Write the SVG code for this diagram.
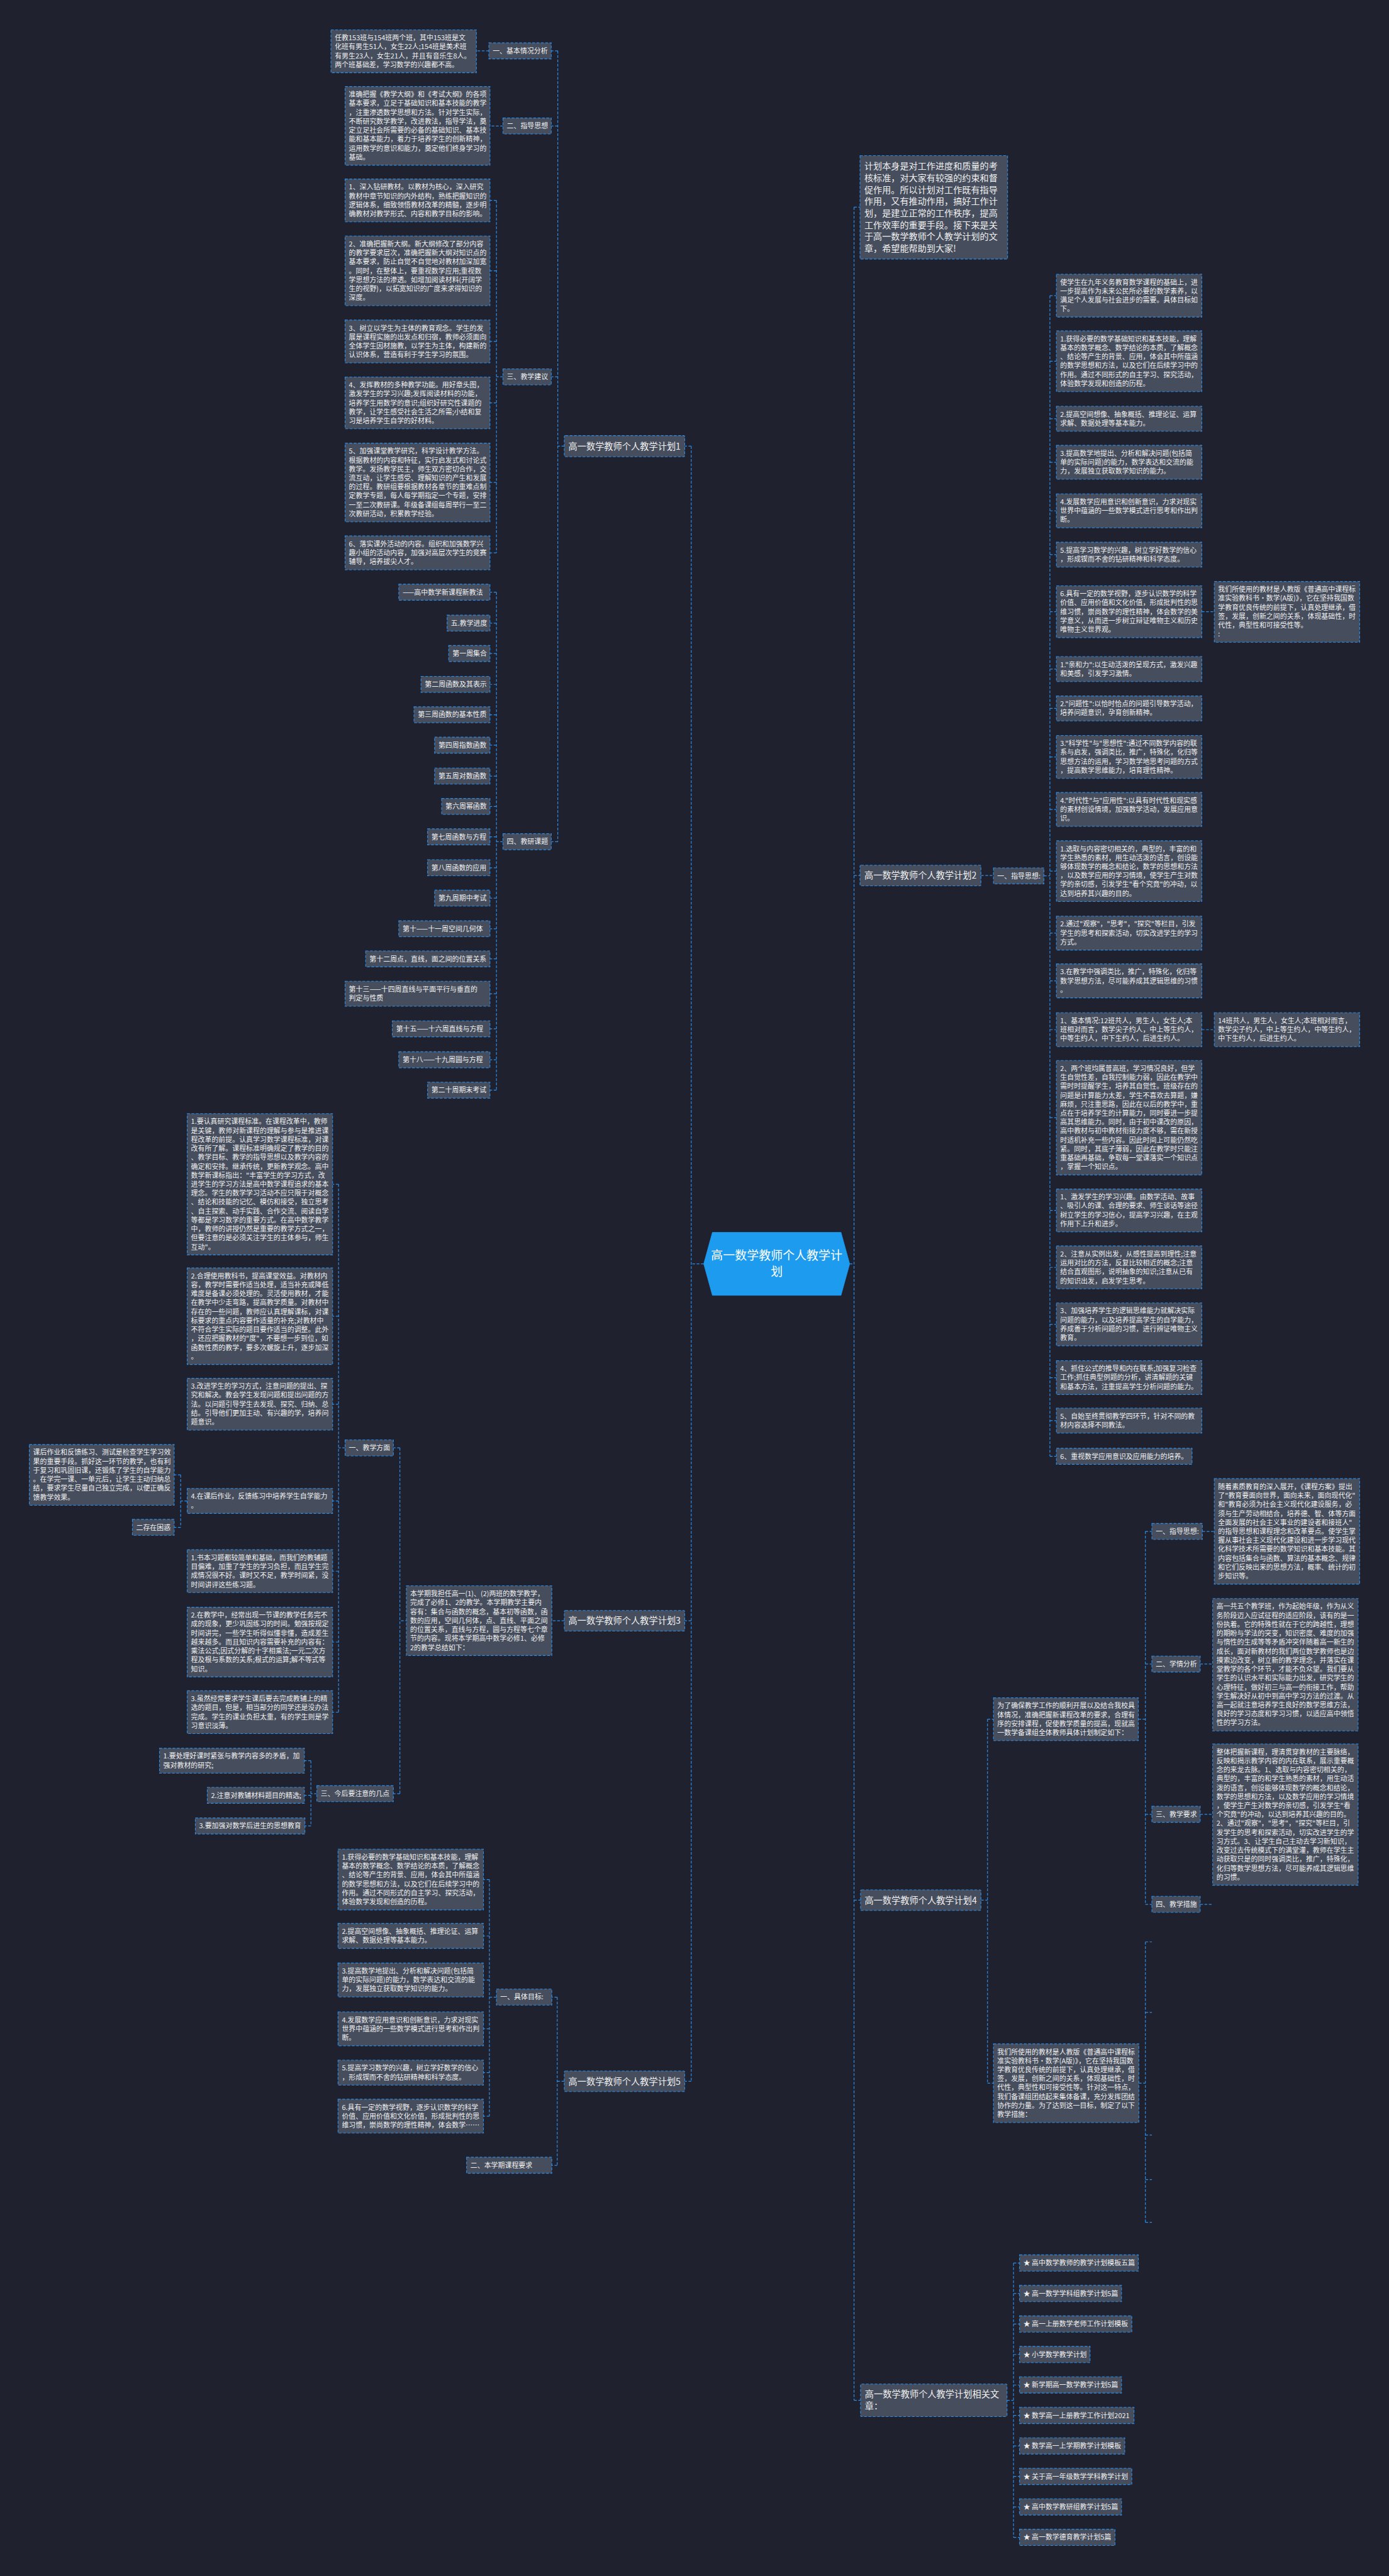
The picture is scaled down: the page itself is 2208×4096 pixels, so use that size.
<svg xmlns="http://www.w3.org/2000/svg" width="2208" height="4096" viewBox="0 0 2208 4096">
<style>
.bg{fill:#1f222e}
.n{fill:#464d5c;stroke:#2d8ce6;stroke-width:1.3;stroke-dasharray:5 3}
.c{fill:none;stroke:#2d8ce6;stroke-width:1.4;stroke-dasharray:5 3}
.t{font-family:"Noto Sans CJK SC","Noto Sans",sans-serif;font-size:12.7px;fill:#f0f0f0}
.tb{font-family:"Noto Sans CJK SC","Noto Sans",sans-serif;font-size:16.5px;fill:#f0f0f0}
.tc{font-family:"Noto Sans CJK SC","Noto Sans",sans-serif;font-size:22px;fill:#ffffff}
</style>
<rect class="bg" x="0" y="0" width="2208" height="4096"/>
<g transform="scale(0.8625)">
<g id="connectors">
<path class="c" d="M1297 2330H1274M1274 822.5V3837M1274 822.5H1262M1274 2988H1262M1274 3837H1262"/>
<path class="c" d="M1566 2330H1574M1574 382V4425M1574 382H1585M1574 1614H1585M1574 3503H1586M1574 4425H1586"/>
<path class="c" d="M1040 822.5H1028M1028 93.75V1551.75M1028 93.75H1016M1028 232.25H1016M1028 694.75H1016M1028 1551.75H1016"/>
<path class="c" d="M901 93.75H878M927 232.25H903"/>
<path class="c" d="M927 694.75H915M915 369.5V1019M915 369.5H903M915 499.25H903M915 629.5H903M915 742.75H903M915 889.5H903M915 1019.25H903"/>
<path class="c" d="M927 1551.75H915M915 1091.75V2009.75M915 1091.75H903M915 1148.75H903M915 1204.75H903M915 1261.75H903M915 1317.75H903M915 1373.75H903M915 1430.75H903M915 1486.75H903M915 1542.75H903M915 1599.75H903M915 1655.75H903M915 1712.25H903M915 1767.75H903M915 1832H903M915 1896.75H903M915 1953.75H903M915 2009.75H903"/>
<path class="c" d="M1040 2988H737M737 2669.25V3306.75M737 2669.25H725M737 3306.75H725"/>
<path class="c" d="M636 2669.25H624M624 2183.25V3156.5M624 2183.25H613M624 2426.5H613M624 2588.75H613M624 2767H613M624 2896.5H613M624 3027.25H613M624 3156.5H613"/>
<path class="c" d="M345 2767H333M333 2719V2815.75M333 2719H321M333 2815.75H321"/>
<path class="c" d="M584 3306.75H573M573 3246V3366.25M573 3246H561M573 3309.75H561M573 3366.25H561"/>
<path class="c" d="M1040 3837H1027M1027 3682V3992M1027 3682H1017M1027 3992H1017"/>
<path class="c" d="M915 3682H902M902 3465V3901.25M902 3465H891M902 3569H891M902 3650.25H891M902 3740.25H891M902 3821H891M902 3901.25H891"/>
<path class="c" d="M1808 1614H1831M1924 1614.75H1935M1935 545V2684.75M1935 545H1947M1935 666H1947M1935 772H1947M1935 852.25H1947M1935 941.75H1947M1935 1022.5H1947M1935 1127.75H1947M1935 1233.5H1947M1935 1306H1947M1935 1395.5H1947M1935 1492.25H1947M1935 1606H1947M1935 1720.25H1947M1935 1808.25H1947M1935 1898.25H1947M1935 2060.5H1947M1935 2231.5H1947M1935 2336.5H1947M1935 2441.5H1947M1935 2539.75H1947M1935 2619H1947M1935 2684.75H1947"/>
<path class="c" d="M2215 1127.75H2238M2215 1898.25H2238"/>
<path class="c" d="M1808 3503H1820M1820 3169.5V3840.5M1820 3169.5H1831M1820 3840.5H1831"/>
<path class="c" d="M2098 3169.5H2111M2111 2823.25V3510.75M2111 2823.25H2123M2111 3067.75H2123M2111 3344.75H2123M2111 3510.75H2123"/>
<path class="c" d="M2216 2823.25H2238M2212 3067.75H2235M2212 3344.75H2235M2212 3510.75H2235"/>
<path class="c" d="M2099 3840.5H2111M2111 3580V4097M2111 3580H2123M2111 3710H2123M2111 3936H2123M2111 4018H2123M2111 4097H2123"/>
<path class="c" d="M1856 4425H1868M1868 4172V4678M1868 4172H1879M1868 4228.2H1879M1868 4284.4H1879M1868 4340.6H1879M1868 4396.8H1879M1868 4453H1879M1868 4509.2H1879M1868 4565.4H1879M1868 4621.6H1879M1868 4677.8H1879"/>
</g>

<g id="center"><path d="M1297 2330L1313 2272H1550L1566 2330L1550 2388H1313Z" fill="#1c9bef" stroke="#1c9bef"/><text class="tc" x="1431.5" y="2322" text-anchor="middle">高一数学教师个人教学计</text><text class="tc" x="1431.5" y="2352" text-anchor="middle">划</text></g>

<g id="plan1"><rect class="n" x="1040" y="803" width="222" height="39" rx="2"/><text class="tb" x="1151" y="828.5" text-anchor="middle">高一数学教师个人教学计划1</text></g>
<g id="p1s1"><rect class="n" x="901" y="79" width="115" height="29.5"/><text class="t" x="908" y="98.3">一、基本情况分析</text></g>
<g id="p1s1a"><rect class="n" x="610" y="55" width="268" height="79"/><text class="t" x="617" y="74.3">任教153班与154班两个班，其中153班是文<tspan x="617" dy="16.5">化班有男生51人，女生22人;154班是美术班</tspan><tspan x="617" dy="16.5">有男生23人，女生21人，并且有音乐生8人。</tspan><tspan x="617" dy="16.5">两个班基础差，学习数学的兴趣都不高。</tspan></text></g>
<g id="p1s2"><rect class="n" x="927" y="217.5" width="89" height="29.5"/><text class="t" x="934" y="236.8">二、指导思想</text></g>
<g id="p1s2a"><rect class="n" x="636" y="159.5" width="267" height="145"/><text class="t" x="643" y="178.8">准确把握《教学大纲》和《考试大纲》的各项<tspan x="643" dy="16.5">基本要求，立足于基础知识和基本技能的教学</tspan><tspan x="643" dy="16.5">，注重渗透数学思想和方法。针对学生实际，</tspan><tspan x="643" dy="16.5">不断研究数学教学，改进教法，指导学法，奠</tspan><tspan x="643" dy="16.5">定立足社会所需要的必备的基础知识、基本技</tspan><tspan x="643" dy="16.5">能和基本能力，着力于培养学生的创新精神，</tspan><tspan x="643" dy="16.5">运用数学的意识和能力，奠定他们终身学习的</tspan><tspan x="643" dy="16.5">基础。</tspan></text></g>
<g id="p1s3"><rect class="n" x="927" y="680" width="89" height="29.5"/><text class="t" x="934" y="699.3">三、教学建议</text></g>
<g id="p1t1"><rect class="n" x="636" y="330" width="267" height="79"/><text class="t" x="643" y="349.3">1、深入钻研教材。以教材为核心，深入研究<tspan x="643" dy="16.5">教材中章节知识的内外结构，熟练把握知识的</tspan><tspan x="643" dy="16.5">逻辑体系，细致领悟教材改革的精髓，逐步明</tspan><tspan x="643" dy="16.5">确教材对教学形式、内容和教学目标的影响。</tspan></text></g>
<g id="p1t2"><rect class="n" x="636" y="435" width="267" height="128.5"/><text class="t" x="643" y="454.3">2、准确把握新大纲。新大纲修改了部分内容<tspan x="643" dy="16.5">的教学要求层次，准确把握新大纲对知识点的</tspan><tspan x="643" dy="16.5">基本要求，防止自觉不自觉地对教材加深加宽</tspan><tspan x="643" dy="16.5">。同时，在整体上，要重视数学应用;重视数</tspan><tspan x="643" dy="16.5">学思想方法的渗透。如增加阅读材料(开阔学</tspan><tspan x="643" dy="16.5">生的视野)，以拓宽知识的广度来求得知识的</tspan><tspan x="643" dy="16.5">深度。</tspan></text></g>
<g id="p1t3"><rect class="n" x="636" y="590" width="267" height="79"/><text class="t" x="643" y="609.3">3、树立以学生为主体的教育观念。学生的发<tspan x="643" dy="16.5">展是课程实施的出发点和归宿，教师必须面向</tspan><tspan x="643" dy="16.5">全体学生因材施教，以学生为主体，构建新的</tspan><tspan x="643" dy="16.5">认识体系，营造有利于学生学习的氛围。</tspan></text></g>
<g id="p1t4"><rect class="n" x="636" y="695" width="267" height="95.5"/><text class="t" x="643" y="714.3">4、发挥教材的多种教学功能。用好章头图，<tspan x="643" dy="16.5">激发学生的学习兴趣;发挥阅读材料的功能，</tspan><tspan x="643" dy="16.5">培养学生用数学的意识;组织好研究性课题的</tspan><tspan x="643" dy="16.5">教学，让学生感受社会生活之所需;小结和复</tspan><tspan x="643" dy="16.5">习是培养学生自学的好材料。</tspan></text></g>
<g id="p1t5"><rect class="n" x="636" y="817" width="267" height="145"/><text class="t" x="643" y="836.3">5、加强课堂教学研究，科学设计教学方法。<tspan x="643" dy="16.5">根据教材的内容和特征，实行启发式和讨论式</tspan><tspan x="643" dy="16.5">教学。发扬教学民主，师生双方密切合作，交</tspan><tspan x="643" dy="16.5">流互动，让学生感受、理解知识的产生和发展</tspan><tspan x="643" dy="16.5">的过程。教研组要根据教材各章节的重难点制</tspan><tspan x="643" dy="16.5">定教学专题，每人每学期指定一个专题，安排</tspan><tspan x="643" dy="16.5">一至二次教研课。年级备课组每周举行一至二</tspan><tspan x="643" dy="16.5">次教研活动，积累教学经验。</tspan></text></g>
<g id="p1t6"><rect class="n" x="636" y="988" width="267" height="62.5"/><text class="t" x="643" y="1007.3">6、落实课外活动的内容。组织和加强数学兴<tspan x="643" dy="16.5">趣小组的活动内容，加强对高层次学生的竞赛</tspan><tspan x="643" dy="16.5">辅导，培养拔尖人才。</tspan></text></g>
<g id="p1s4"><rect class="n" x="927" y="1537" width="89" height="29.5"/><text class="t" x="934" y="1556.3">四、教研课题</text></g>
<g id="p1w0"><rect class="n" x="735" y="1077" width="168" height="29.5"/><text class="t" x="742" y="1096.3">——高中数学新课程新教法</text></g>
<g id="p1w1"><rect class="n" x="824" y="1134" width="79" height="29.5"/><text class="t" x="831" y="1153.3">五.教学进度</text></g>
<g id="p1w2"><rect class="n" x="827" y="1190" width="76" height="29.5"/><text class="t" x="834" y="1209.3">第一周集合</text></g>
<g id="p1w3"><rect class="n" x="776" y="1247" width="127" height="29.5"/><text class="t" x="783" y="1266.3">第二周函数及其表示</text></g>
<g id="p1w4"><rect class="n" x="763" y="1303" width="140" height="29.5"/><text class="t" x="770" y="1322.3">第三周函数的基本性质</text></g>
<g id="p1w5"><rect class="n" x="801" y="1359" width="102" height="29.5"/><text class="t" x="808" y="1378.3">第四周指数函数</text></g>
<g id="p1w6"><rect class="n" x="801" y="1416" width="102" height="29.5"/><text class="t" x="808" y="1435.3">第五周对数函数</text></g>
<g id="p1w7"><rect class="n" x="814" y="1472" width="89" height="29.5"/><text class="t" x="821" y="1491.3">第六周幂函数</text></g>
<g id="p1w8"><rect class="n" x="788" y="1528" width="115" height="29.5"/><text class="t" x="795" y="1547.3">第七周函数与方程</text></g>
<g id="p1w9"><rect class="n" x="788" y="1585" width="115" height="29.5"/><text class="t" x="795" y="1604.3">第八周函数的应用</text></g>
<g id="p1w10"><rect class="n" x="801" y="1641" width="102" height="29.5"/><text class="t" x="808" y="1660.3">第九周期中考试</text></g>
<g id="p1w11"><rect class="n" x="735" y="1697.5" width="168" height="29.5"/><text class="t" x="742" y="1716.8">第十——十一周空间几何体</text></g>
<g id="p1w12"><rect class="n" x="674" y="1753" width="229" height="29.5"/><text class="t" x="681" y="1772.3">第十二周点，直线，面之间的位置关系</text></g>
<g id="p1w13"><rect class="n" x="636" y="1809" width="267" height="46"/><text class="t" x="643" y="1828.3">第十三——十四周直线与平面平行与垂直的<tspan x="643" dy="16.5">判定与性质</tspan></text></g>
<g id="p1w14"><rect class="n" x="723" y="1882" width="180" height="29.5"/><text class="t" x="730" y="1901.3">第十五——十六周直线与方程</text></g>
<g id="p1w15"><rect class="n" x="735" y="1939" width="168" height="29.5"/><text class="t" x="742" y="1958.3">第十八——十九周圆与方程</text></g>
<g id="p1w16"><rect class="n" x="788" y="1995" width="115" height="29.5"/><text class="t" x="795" y="2014.3">第二十周期末考试</text></g>

<g id="plan3"><rect class="n" x="1040" y="2969" width="222" height="38" rx="2"/><text class="tb" x="1151" y="2994" text-anchor="middle">高一数学教师个人教学计划3</text></g>
<g id="p3sum"><rect class="n" x="749" y="2923.5" width="268" height="128.5"/><text class="t" x="756" y="2942.8">本学期我担任高一(1)、(2)两班的数学教学，<tspan x="756" dy="16.5">完成了必修1、2的教学。本学期教学主要内</tspan><tspan x="756" dy="16.5">容有：集合与函数的概念，基本初等函数，函</tspan><tspan x="756" dy="16.5">数的应用，空间几何体，点、直线、平面之间</tspan><tspan x="756" dy="16.5">的位置关系，直线与方程，圆与方程等七个章</tspan><tspan x="756" dy="16.5">节的内容。现将本学期高中数学必修1、必修</tspan><tspan x="756" dy="16.5">2的教学总结如下：</tspan></text></g>
<g id="p3s1"><rect class="n" x="636" y="2654.5" width="89" height="29.5"/><text class="t" x="643" y="2673.8">一、教学方面</text></g>
<g id="p3c1"><rect class="n" x="345" y="2053" width="268" height="260.5"/><text class="t" x="352" y="2072.3">1.要认真研究课程标准。在课程改革中，教师<tspan x="352" dy="16.5">是关键，教师对新课程的理解与参与是推进课</tspan><tspan x="352" dy="16.5">程改革的前提。认真学习数学课程标准，对课</tspan><tspan x="352" dy="16.5">改有所了解。课程标准明确规定了教学的目的</tspan><tspan x="352" dy="16.5">、教学目标、教学的指导思想以及教学内容的</tspan><tspan x="352" dy="16.5">确定和安排。继承传统，更新教学观念。高中</tspan><tspan x="352" dy="16.5">数学新课标指出："丰富学生的学习方式，改</tspan><tspan x="352" dy="16.5">进学生的学习方法是高中数学课程追求的基本</tspan><tspan x="352" dy="16.5">理念。学生的数学学习活动不应只限于对概念</tspan><tspan x="352" dy="16.5">、结论和技能的记忆、模仿和接受，独立思考</tspan><tspan x="352" dy="16.5">、自主探索、动手实践、合作交流、阅读自学</tspan><tspan x="352" dy="16.5">等都是学习数学的重要方式。在高中数学教学</tspan><tspan x="352" dy="16.5">中，教师的讲授仍然是重要的教学方式之一，</tspan><tspan x="352" dy="16.5">但要注意的是必须关注学生的主体参与，师生</tspan><tspan x="352" dy="16.5">互动"。</tspan></text></g>
<g id="p3c2"><rect class="n" x="345" y="2337.5" width="268" height="178"/><text class="t" x="352" y="2356.8">2.合理使用教科书，提高课堂效益。对教材内<tspan x="352" dy="16.5">容，教学时需要作适当处理，适当补充或降低</tspan><tspan x="352" dy="16.5">难度是备课必须处理的。灵活使用教材，才能</tspan><tspan x="352" dy="16.5">在教学中少走弯路，提高教学质量。对教材中</tspan><tspan x="352" dy="16.5">存在的一些问题，教师应认真理解课标，对课</tspan><tspan x="352" dy="16.5">标要求的重点内容要作适量的补充;对教材中</tspan><tspan x="352" dy="16.5">不符合学生实际的题目要作适当的调整。此外</tspan><tspan x="352" dy="16.5">，还应把握教材的"度"，不要想一步到位，如</tspan><tspan x="352" dy="16.5">函数性质的教学，要多次螺旋上升，逐步加深</tspan><tspan x="352" dy="16.5">。</tspan></text></g>
<g id="p3c3"><rect class="n" x="345" y="2541" width="268" height="95.5"/><text class="t" x="352" y="2560.3">3.改进学生的学习方式，注意问题的提出、探<tspan x="352" dy="16.5">究和解决。教会学生发现问题和提出问题的方</tspan><tspan x="352" dy="16.5">法。以问题引导学生去发现、探究、归纳、总</tspan><tspan x="352" dy="16.5">结。引导他们更加主动、有兴趣的学，培养问</tspan><tspan x="352" dy="16.5">题意识。</tspan></text></g>
<g id="p3c4"><rect class="n" x="345" y="2744" width="268" height="46"/><text class="t" x="352" y="2763.3">4.在课后作业，反馈练习中培养学生自学能力<tspan x="352" dy="16.5">。</tspan></text></g>
<g id="p3c4a"><rect class="n" x="54" y="2663" width="267" height="112"/><text class="t" x="61" y="2682.3">课后作业和反馈练习、测试是检查学生学习效<tspan x="61" dy="16.5">果的重要手段。抓好这一环节的教学，也有利</tspan><tspan x="61" dy="16.5">于复习和巩固旧课，还锻炼了学生的自学能力</tspan><tspan x="61" dy="16.5">。在学完一课、一单元后，让学生主动归纳总</tspan><tspan x="61" dy="16.5">结，要求学生尽量自己独立完成，以便正确反</tspan><tspan x="61" dy="16.5">馈教学效果。</tspan></text></g>
<g id="p3c4b"><rect class="n" x="244" y="2801" width="77" height="29.5"/><text class="t" x="251" y="2820.3">二存在困惑</text></g>
<g id="p3c5"><rect class="n" x="345" y="2857" width="268" height="79"/><text class="t" x="352" y="2876.3">1.书本习题都较简单和基础，而我们的教辅题<tspan x="352" dy="16.5">目偏难，加重了学生的学习负担，而且学生完</tspan><tspan x="352" dy="16.5">成情况很不好。课时又不足，教学时间紧，没</tspan><tspan x="352" dy="16.5">时间讲评这些练习题。</tspan></text></g>
<g id="p3c6"><rect class="n" x="345" y="2963" width="268" height="128.5"/><text class="t" x="352" y="2982.3">2.在教学中，经常出现一节课的教学任务完不<tspan x="352" dy="16.5">成的现象，更少巩固练习的时间。勉强按规定</tspan><tspan x="352" dy="16.5">时间讲完，一些学生听得似懂非懂，造成差生</tspan><tspan x="352" dy="16.5">越来越多。而且知识内容需要补充的内容有：</tspan><tspan x="352" dy="16.5">乘法公式;因式分解的十字相乘法;一元二次方</tspan><tspan x="352" dy="16.5">程及根与系数的关系;根式的运算;解不等式等</tspan><tspan x="352" dy="16.5">知识。</tspan></text></g>
<g id="p3c7"><rect class="n" x="345" y="3117" width="268" height="79"/><text class="t" x="352" y="3136.3">3.虽然经常要求学生课后要去完成教辅上的精<tspan x="352" dy="16.5">选的题目，但是，相当部分的同学还是没办法</tspan><tspan x="352" dy="16.5">完成。学生的课业负担太重，有的学生则是学</tspan><tspan x="352" dy="16.5">习意识淡薄。</tspan></text></g>
<g id="p3s3"><rect class="n" x="584" y="3292" width="141" height="29.5"/><text class="t" x="591" y="3311.3">三、今后要注意的几点</text></g>
<g id="p3d1"><rect class="n" x="294" y="3223" width="267" height="46"/><text class="t" x="301" y="3242.3">1.要处理好课时紧张与教学内容多的矛盾，加<tspan x="301" dy="16.5">强对教材的研究;</tspan></text></g>
<g id="p3d2"><rect class="n" x="382" y="3295" width="179" height="29.5"/><text class="t" x="389" y="3314.3">2.注意对教辅材料题目的精选;</text></g>
<g id="p3d3"><rect class="n" x="360" y="3351.5" width="202" height="29.5"/><text class="t" x="367" y="3370.8">3.要加强对数学后进生的思想教育</text></g>

<g id="plan5"><rect class="n" x="1040" y="3818" width="222" height="38" rx="2"/><text class="tb" x="1151" y="3843" text-anchor="middle">高一数学教师个人教学计划5</text></g>
<g id="p5s1"><rect class="n" x="915" y="3667" width="102" height="29.5"/><text class="t" x="922" y="3686.3">一、具体目标:</text></g>
<g id="p5e1"><rect class="n" x="623" y="3409" width="268" height="112"/><text class="t" x="630" y="3428.3">1.获得必要的数学基础知识和基本技能，理解<tspan x="630" dy="16.5">基本的数学概念、数学结论的本质，了解概念</tspan><tspan x="630" dy="16.5">、结论等产生的背景、应用，体会其中所蕴涵</tspan><tspan x="630" dy="16.5">的数学思想和方法，以及它们在后续学习中的</tspan><tspan x="630" dy="16.5">作用。通过不同形式的自主学习、探究活动，</tspan><tspan x="630" dy="16.5">体验数学发现和创造的历程。</tspan></text></g>
<g id="p5e2"><rect class="n" x="623" y="3546" width="268" height="46"/><text class="t" x="630" y="3565.3">2.提高空间想像、抽象概括、推理论证、运算<tspan x="630" dy="16.5">求解、数据处理等基本能力。</tspan></text></g>
<g id="p5e3"><rect class="n" x="623" y="3619" width="268" height="62.5"/><text class="t" x="630" y="3638.3">3.提高数学地提出、分析和解决问题(包括简<tspan x="630" dy="16.5">单的实际问题)的能力，数学表达和交流的能</tspan><tspan x="630" dy="16.5">力，发展独立获取数学知识的能力。</tspan></text></g>
<g id="p5e4"><rect class="n" x="623" y="3709" width="268" height="62.5"/><text class="t" x="630" y="3728.3">4.发展数学应用意识和创新意识，力求对现实<tspan x="630" dy="16.5">世界中蕴涵的一些数学模式进行思考和作出判</tspan><tspan x="630" dy="16.5">断。</tspan></text></g>
<g id="p5e5"><rect class="n" x="623" y="3798" width="268" height="46"/><text class="t" x="630" y="3817.3">5.提高学习数学的兴趣，树立学好数学的信心<tspan x="630" dy="16.5">，形成锲而不舍的钻研精神和科学态度。</tspan></text></g>
<g id="p5e6"><rect class="n" x="623" y="3870" width="268" height="62.5"/><text class="t" x="630" y="3889.3">6.具有一定的数学视野，逐步认识数学的科学<tspan x="630" dy="16.5">价值、应用价值和文化价值，形成批判性的思</tspan><tspan x="630" dy="16.5">维习惯，崇尚数学的理性精神，体会数学……</tspan></text></g>
<g id="p5s2"><rect class="n" x="860" y="3977" width="157" height="29.5"/><text class="t" x="867" y="3996.3">二、本学期课程要求</text></g>

<g id="intro"><rect class="n" x="1585" y="287" width="272" height="190.5"/><text class="tb" style="font-size:16.4px" x="1593" y="312">计划本身是对工作进度和质量的考<tspan x="1593" dy="21.7">核标准，对大家有较强的约束和督</tspan><tspan x="1593" dy="21.7">促作用。所以计划对工作既有指导</tspan><tspan x="1593" dy="21.7">作用，又有推动作用，搞好工作计</tspan><tspan x="1593" dy="21.7">划，是建立正常的工作秩序，提高</tspan><tspan x="1593" dy="21.7">工作效率的重要手段。接下来是关</tspan><tspan x="1593" dy="21.7">于高一数学教师个人教学计划的文</tspan><tspan x="1593" dy="21.7">章，希望能帮助到大家!</tspan></text></g>
<g id="plan2"><rect class="n" x="1585" y="1595" width="223" height="38" rx="2"/><text class="tb" x="1696.5" y="1620" text-anchor="middle">高一数学教师个人教学计划2</text></g>
<g id="p2s1"><rect class="n" x="1831" y="1600" width="93" height="29.5"/><text class="t" x="1838" y="1619.3">一、指导思想:</text></g>
<g id="p2l1"><rect class="n" x="1947" y="505.5" width="268" height="79"/><text class="t" x="1954" y="524.8">使学生在九年义务教育数学课程的基础上，进<tspan x="1954" dy="16.5">一步提高作为未来公民所必要的数学素养，以</tspan><tspan x="1954" dy="16.5">满足个人发展与社会进步的需要。具体目标如</tspan><tspan x="1954" dy="16.5">下。</tspan></text></g>
<g id="p2l2"><rect class="n" x="1947" y="610" width="268" height="112"/><text class="t" x="1954" y="629.3">1.获得必要的数学基础知识和基本技能，理解<tspan x="1954" dy="16.5">基本的数学概念、数学结论的本质，了解概念</tspan><tspan x="1954" dy="16.5">、结论等产生的背景、应用，体会其中所蕴涵</tspan><tspan x="1954" dy="16.5">的数学思想和方法，以及它们在后续学习中的</tspan><tspan x="1954" dy="16.5">作用。通过不同形式的自主学习、探究活动，</tspan><tspan x="1954" dy="16.5">体验数学发现和创造的历程。</tspan></text></g>
<g id="p2l3"><rect class="n" x="1947" y="749" width="268" height="46"/><text class="t" x="1954" y="768.3">2.提高空间想像、抽象概括、推理论证、运算<tspan x="1954" dy="16.5">求解、数据处理等基本能力。</tspan></text></g>
<g id="p2l4"><rect class="n" x="1947" y="821" width="268" height="62.5"/><text class="t" x="1954" y="840.3">3.提高数学地提出、分析和解决问题(包括简<tspan x="1954" dy="16.5">单的实际问题)的能力，数学表达和交流的能</tspan><tspan x="1954" dy="16.5">力，发展独立获取数学知识的能力。</tspan></text></g>
<g id="p2l5"><rect class="n" x="1947" y="910.5" width="268" height="62.5"/><text class="t" x="1954" y="929.8">4.发展数学应用意识和创新意识，力求对现实<tspan x="1954" dy="16.5">世界中蕴涵的一些数学模式进行思考和作出判</tspan><tspan x="1954" dy="16.5">断。</tspan></text></g>
<g id="p2l6"><rect class="n" x="1947" y="999.5" width="268" height="46"/><text class="t" x="1954" y="1018.8">5.提高学习数学的兴趣，树立学好数学的信心<tspan x="1954" dy="16.5">，形成锲而不舍的钻研精神和科学态度。</tspan></text></g>
<g id="p2l7"><rect class="n" x="1947" y="1080" width="268" height="95.5"/><text class="t" x="1954" y="1099.3">6.具有一定的数学视野，逐步认识数学的科学<tspan x="1954" dy="16.5">价值、应用价值和文化价值，形成批判性的思</tspan><tspan x="1954" dy="16.5">维习惯，崇尚数学的理性精神，体会数学的美</tspan><tspan x="1954" dy="16.5">学意义，从而进一步树立辩证唯物主义和历史</tspan><tspan x="1954" dy="16.5">唯物主义世界观。</tspan></text></g>
<g id="p2l7a"><rect class="n" x="2238" y="1072" width="268" height="112"/><text class="t" x="2245" y="1091.3">我们所使用的教材是人教版《普通高中课程标<tspan x="2245" dy="16.5">准实验教科书•数学(A版)》，它在坚持我国数</tspan><tspan x="2245" dy="16.5">学教育优良传统的前提下，认真处理继承，借</tspan><tspan x="2245" dy="16.5">签，发展，创新之间的关系，体现基础性，时</tspan><tspan x="2245" dy="16.5">代性，典型性和可接受性等。</tspan><tspan x="2245" dy="16.5">:</tspan></text></g>
<g id="p2l8"><rect class="n" x="1947" y="1210.5" width="268" height="46"/><text class="t" x="1954" y="1229.8">1."亲和力":以生动活泼的呈现方式，激发兴趣<tspan x="1954" dy="16.5">和美感，引发学习激情。</tspan></text></g>
<g id="p2l9"><rect class="n" x="1947" y="1283" width="268" height="46"/><text class="t" x="1954" y="1302.3">2."问题性":以恰时恰点的问题引导数学活动，<tspan x="1954" dy="16.5">培养问题意识，孕育创新精神。</tspan></text></g>
<g id="p2l10"><rect class="n" x="1947" y="1356" width="268" height="79"/><text class="t" x="1954" y="1375.3">3."科学性"与"思想性":通过不同数学内容的联<tspan x="1954" dy="16.5">系与启发，强调类比，推广，特殊化，化归等</tspan><tspan x="1954" dy="16.5">思想方法的运用，学习数学地思考问题的方式</tspan><tspan x="1954" dy="16.5">，提高数学思维能力，培育理性精神。</tspan></text></g>
<g id="p2l11"><rect class="n" x="1947" y="1461" width="268" height="62.5"/><text class="t" x="1954" y="1480.3">4."时代性"与"应用性":以具有时代性和现实感<tspan x="1954" dy="16.5">的素材创设情境，加强数学活动，发展应用意</tspan><tspan x="1954" dy="16.5">识。</tspan></text></g>
<g id="p2l12"><rect class="n" x="1947" y="1550" width="268" height="112"/><text class="t" x="1954" y="1569.3">1.选取与内容密切相关的，典型的，丰富的和<tspan x="1954" dy="16.5">学生熟悉的素材，用生动活泼的语言，创设能</tspan><tspan x="1954" dy="16.5">够体现数学的概念和结论，数学的思想和方法</tspan><tspan x="1954" dy="16.5">，以及数学应用的学习情境，使学生产生对数</tspan><tspan x="1954" dy="16.5">学的亲切感，引发学生"看个究竟"的冲动，以</tspan><tspan x="1954" dy="16.5">达到培养其兴趣的目的。</tspan></text></g>
<g id="p2l13"><rect class="n" x="1947" y="1689" width="268" height="62.5"/><text class="t" x="1954" y="1708.3">2.通过"观察"，"思考"，"探究"等栏目，引发<tspan x="1954" dy="16.5">学生的思考和探索活动，切实改进学生的学习</tspan><tspan x="1954" dy="16.5">方式。</tspan></text></g>
<g id="p2l14"><rect class="n" x="1947" y="1777" width="268" height="62.5"/><text class="t" x="1954" y="1796.3">3.在教学中强调类比，推广，特殊化，化归等<tspan x="1954" dy="16.5">数学思想方法，尽可能养成其逻辑思维的习惯</tspan><tspan x="1954" dy="16.5">。</tspan></text></g>
<g id="p2l15"><rect class="n" x="1947" y="1867" width="268" height="62.5"/><text class="t" x="1954" y="1886.3">1、基本情况:12班共人，男生人，女生人;本<tspan x="1954" dy="16.5">班相对而言，数学尖子约人，中上等生约人，</tspan><tspan x="1954" dy="16.5">中等生约人，中下生约人，后进生约人。</tspan></text></g>
<g id="p2l15a"><rect class="n" x="2238" y="1867" width="268" height="62.5"/><text class="t" x="2245" y="1886.3">14班共人，男生人，女生人;本班相对而言，<tspan x="2245" dy="16.5">数学尖子约人，中上等生约人，中等生约人，</tspan><tspan x="2245" dy="16.5">中下生约人，后进生约人。</tspan></text></g>
<g id="p2l16"><rect class="n" x="1947" y="1955" width="268" height="211"/><text class="t" x="1954" y="1974.3">2、两个班均属普高班，学习情况良好，但学<tspan x="1954" dy="16.5">生自觉性差，自我控制能力弱，因此在教学中</tspan><tspan x="1954" dy="16.5">需时时提醒学生，培养其自觉性。班级存在的</tspan><tspan x="1954" dy="16.5">问题是计算能力太差，学生不喜欢去算题，嫌</tspan><tspan x="1954" dy="16.5">麻烦，只注重思路，因此在以后的教学中，重</tspan><tspan x="1954" dy="16.5">点在于培养学生的计算能力，同时要进一步提</tspan><tspan x="1954" dy="16.5">高其思维能力。同时，由于初中课改的原因，</tspan><tspan x="1954" dy="16.5">高中教材与初中教材衔接力度不够，需在新授</tspan><tspan x="1954" dy="16.5">时适机补充一些内容。因此时间上可能仍然吃</tspan><tspan x="1954" dy="16.5">紧。同时，其底子薄弱，因此在教学时只能注</tspan><tspan x="1954" dy="16.5">重基础再基础，争取每一堂课落实一个知识点</tspan><tspan x="1954" dy="16.5">，掌握一个知识点。</tspan></text></g>
<g id="p2l17"><rect class="n" x="1947" y="2192" width="268" height="79"/><text class="t" x="1954" y="2211.3">1、激发学生的学习兴趣。由数学活动、故事<tspan x="1954" dy="16.5">、吸引人的课、合理的要求、师生谈话等途径</tspan><tspan x="1954" dy="16.5">树立学生的学习信心，提高学习兴趣，在主观</tspan><tspan x="1954" dy="16.5">作用下上升和进步。</tspan></text></g>
<g id="p2l18"><rect class="n" x="1947" y="2297" width="268" height="79"/><text class="t" x="1954" y="2316.3">2、注意从实例出发，从感性提高到理性;注意<tspan x="1954" dy="16.5">运用对比的方法，反复比较相近的概念;注意</tspan><tspan x="1954" dy="16.5">结合直观图形，说明抽象的知识;注意从已有</tspan><tspan x="1954" dy="16.5">的知识出发，启发学生思考。</tspan></text></g>
<g id="p2l19"><rect class="n" x="1947" y="2402" width="268" height="79"/><text class="t" x="1954" y="2421.3">3、加强培养学生的逻辑思维能力就解决实际<tspan x="1954" dy="16.5">问题的能力，以及培养提高学生的自学能力，</tspan><tspan x="1954" dy="16.5">养成善于分析问题的习惯，进行辨证唯物主义</tspan><tspan x="1954" dy="16.5">教育。</tspan></text></g>
<g id="p2l20"><rect class="n" x="1947" y="2508.5" width="268" height="62.5"/><text class="t" x="1954" y="2527.8">4、抓住公式的推导和内在联系;加强复习检查<tspan x="1954" dy="16.5">工作;抓住典型例题的分析，讲清解题的关键</tspan><tspan x="1954" dy="16.5">和基本方法，注重提高学生分析问题的能力。</tspan></text></g>
<g id="p2l21"><rect class="n" x="1947" y="2596" width="268" height="46"/><text class="t" x="1954" y="2615.3">5、自始至终贯彻教学四环节，针对不同的教<tspan x="1954" dy="16.5">材内容选择不同教法。</tspan></text></g>
<g id="p2l22"><rect class="n" x="1947" y="2670" width="250" height="29.5"/><text class="t" x="1954" y="2689.3">6、重视数学应用意识及应用能力的培养。</text></g>

<g id="plan4"><rect class="n" x="1586" y="3484" width="222" height="38" rx="2"/><text class="tb" x="1697" y="3509" text-anchor="middle">高一数学教师个人教学计划4</text></g>
<g id="p4g"><rect class="n" x="1831" y="3130" width="267" height="79"/><text class="t" x="1838" y="3149.3">为了确保教学工作的顺利开展以及结合我校具<tspan x="1838" dy="16.5">体情况，准确把握新课程改革的要求，合理有</tspan><tspan x="1838" dy="16.5">序的安排课程，促使教学质量的提高，现就高</tspan><tspan x="1838" dy="16.5">一数学备课组全体教师具体计划制定如下：</tspan></text></g>
<g id="p4h1"><rect class="n" x="2123" y="2808.5" width="93" height="29.5"/><text class="t" x="2130" y="2827.8">一、指导思想:</text></g>
<g id="p4i1"><rect class="n" x="2238" y="2726" width="268" height="194.5"/><text class="t" x="2245" y="2745.3">随着素质教育的深入展开，《课程方案》提出<tspan x="2245" dy="16.5">了"教育要面向世界，面向未来，面向现代化"</tspan><tspan x="2245" dy="16.5">和"教育必须为社会主义现代化建设服务，必</tspan><tspan x="2245" dy="16.5">须与生产劳动相结合，培养德、智、体等方面</tspan><tspan x="2245" dy="16.5">全面发展的社会主义事业的建设者和接班人"</tspan><tspan x="2245" dy="16.5">的指导思想和课程理念和改革要点。使学生掌</tspan><tspan x="2245" dy="16.5">握从事社会主义现代化建设和进一步学习现代</tspan><tspan x="2245" dy="16.5">化科学技术所需要的数学知识和基本技能。其</tspan><tspan x="2245" dy="16.5">内容包括集合与函数、算法的基本概念、规律</tspan><tspan x="2245" dy="16.5">和它们反映出来的思想方法，概率、统计的初</tspan><tspan x="2245" dy="16.5">步知识等。</tspan></text></g>
<g id="p4h2"><rect class="n" x="2123" y="3053" width="89" height="29.5"/><text class="t" x="2130" y="3072.3">二、学情分析</text></g>
<g id="p4i2"><rect class="n" x="2235" y="2947" width="268" height="244"/><text class="t" x="2242" y="2966.3">高一共五个教学班，作为起始年级，作为从义<tspan x="2242" dy="16.5">务阶段迈入应试征程的适应阶段，该有的是一</tspan><tspan x="2242" dy="16.5">份执着。它的特殊性就在于它的跨越性，理想</tspan><tspan x="2242" dy="16.5">的期盼与学法的突变，知识密度、难度的加强</tspan><tspan x="2242" dy="16.5">与惰性的生成等等矛盾冲突伴随着高一新生的</tspan><tspan x="2242" dy="16.5">成长，面对新教材的我们两位数学教师也是边</tspan><tspan x="2242" dy="16.5">摸索边改变，树立新的教学理念，并落实在课</tspan><tspan x="2242" dy="16.5">堂教学的各个环节，才能不负众望。我们要从</tspan><tspan x="2242" dy="16.5">学生的认识水平和实际能力出发，研究学生的</tspan><tspan x="2242" dy="16.5">心理特征，做好初三与高一的衔接工作，帮助</tspan><tspan x="2242" dy="16.5">学生解决好从初中到高中学习方法的过渡。从</tspan><tspan x="2242" dy="16.5">高一起就注意培养学生良好的数学思维方法，</tspan><tspan x="2242" dy="16.5">良好的学习态度和学习习惯，以适应高中领悟</tspan><tspan x="2242" dy="16.5">性的学习方法。</tspan></text></g>
<g id="p4h3"><rect class="n" x="2123" y="3330" width="89" height="29.5"/><text class="t" x="2130" y="3349.3">三、教学要求</text></g>
<g id="p4i3"><rect class="n" x="2235" y="3215" width="268" height="260.5"/><text class="t" x="2242" y="3234.3">整体把握新课程，理清贯穿教材的主要脉络，<tspan x="2242" dy="16.5">反映和揭示教学内容的内在联系，展示重要概</tspan><tspan x="2242" dy="16.5">念的来龙去脉。1、选取与内容密切相关的，</tspan><tspan x="2242" dy="16.5">典型的，丰富的和学生熟悉的素材，用生动活</tspan><tspan x="2242" dy="16.5">泼的语言，创设能够体现数学的概念和结论，</tspan><tspan x="2242" dy="16.5">数学的思想和方法，以及数学应用的学习情境</tspan><tspan x="2242" dy="16.5">，使学生产生对数学的亲切感，引发学生"看</tspan><tspan x="2242" dy="16.5">个究竟"的冲动，以达到培养其兴趣的目的。</tspan><tspan x="2242" dy="16.5">2、通过"观察"，"思考"，"探究"等栏目，引</tspan><tspan x="2242" dy="16.5">发学生的思考和探索活动，切实改进学生的学</tspan><tspan x="2242" dy="16.5">习方式。3、让学生自己主动去学习新知识，</tspan><tspan x="2242" dy="16.5">改变过去传统模式下的满堂灌，教师在学生主</tspan><tspan x="2242" dy="16.5">动获取只是的同时强调类比，推广，特殊化，</tspan><tspan x="2242" dy="16.5">化归等数学思想方法，尽可能养成其逻辑思维</tspan><tspan x="2242" dy="16.5">的习惯。</tspan></text></g>
<g id="p4h4"><rect class="n" x="2123" y="3496" width="89" height="29.5"/><text class="t" x="2130" y="3515.3">四、教学措施</text></g>
<g id="p4j"><rect class="n" x="1831" y="3768" width="268" height="145"/><text class="t" x="1838" y="3787.3">我们所使用的教材是人教版《普通高中课程标<tspan x="1838" dy="16.5">准实验教科书•数学(A版)》，它在坚持我国数</tspan><tspan x="1838" dy="16.5">学教育优良传统的前提下，认真处理继承，借</tspan><tspan x="1838" dy="16.5">签，发展，创新之间的关系，体现基础性，时</tspan><tspan x="1838" dy="16.5">代性，典型性和可接受性等。针对这一特点，</tspan><tspan x="1838" dy="16.5">我们备课组团结起来集体备课，充分发挥团结</tspan><tspan x="1838" dy="16.5">协作的力量。为了达到这一目标，制定了以下</tspan><tspan x="1838" dy="16.5">教学措施：</tspan></text></g>

<g id="related"><rect class="n" x="1586" y="4395" width="270" height="60" rx="2"/><text class="tb" x="1594" y="4420">高一数学教师个人教学计划相关文<tspan x="1594" dy="21.7">章：</tspan></text></g>
<g id="r1"><rect class="n" x="1879" y="4157" width="219" height="30"/><text class="t" x="1886" y="4176.5">★ 高中数学教师的教学计划模板五篇</text></g>
<g id="r2"><rect class="n" x="1879" y="4213.2" width="188" height="30"/><text class="t" x="1886" y="4232.7">★ 高一数学学科组教学计划5篇</text></g>
<g id="r3"><rect class="n" x="1879" y="4269.4" width="207" height="30"/><text class="t" x="1886" y="4288.9">★ 高一上册数学老师工作计划模板</text></g>
<g id="r4"><rect class="n" x="1879" y="4325.6" width="130" height="30"/><text class="t" x="1886" y="4345.1">★ 小学数学教学计划</text></g>
<g id="r5"><rect class="n" x="1879" y="4381.8" width="188" height="30"/><text class="t" x="1886" y="4401.3">★ 新学期高一数学教学计划5篇</text></g>
<g id="r6"><rect class="n" x="1879" y="4438" width="211" height="30"/><text class="t" x="1886" y="4457.5">★ 数学高一上册教学工作计划2021</text></g>
<g id="r7"><rect class="n" x="1879" y="4494.2" width="194" height="30"/><text class="t" x="1886" y="4513.7">★ 数学高一上学期教学计划模板</text></g>
<g id="r8"><rect class="n" x="1879" y="4550.4" width="207" height="30"/><text class="t" x="1886" y="4569.9">★ 关于高一年级数学学科教学计划</text></g>
<g id="r9"><rect class="n" x="1879" y="4606.6" width="188" height="30"/><text class="t" x="1886" y="4626.1">★ 高中数学教研组教学计划5篇</text></g>
<g id="r10"><rect class="n" x="1879" y="4662.8" width="176" height="30"/><text class="t" x="1886" y="4682.3">★ 高一数学德育教学计划5篇</text></g>
</g>
</svg>
